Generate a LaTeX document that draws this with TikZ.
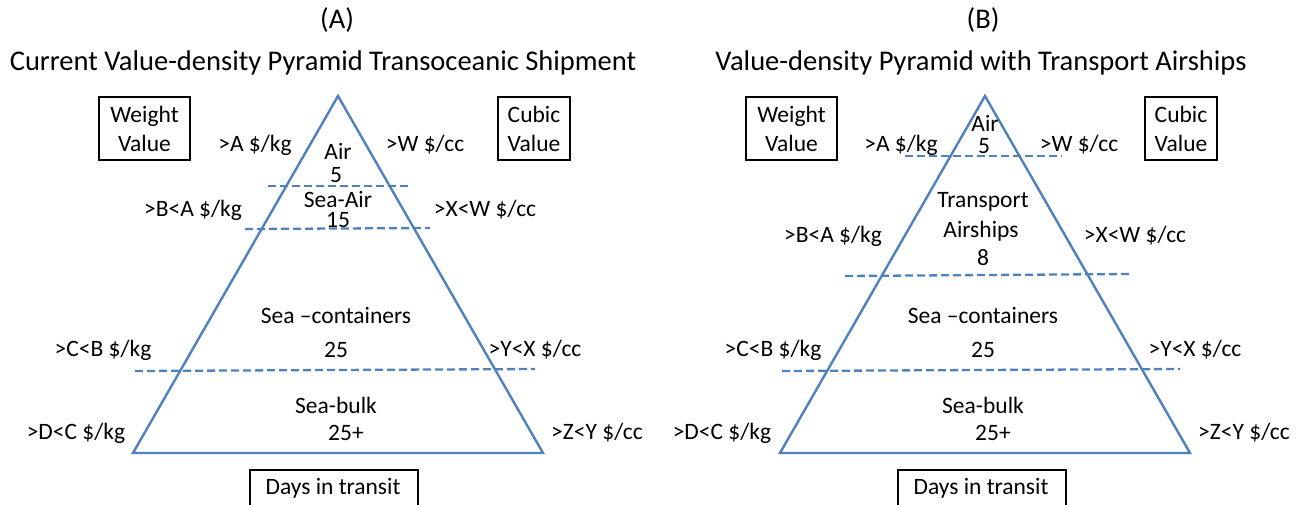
\documentclass[tikz,border=0pt]{standalone}
\usepackage{fontspec}
\setmainfont{Carlito}
\definecolor{pyrblue}{RGB}{79,129,189}
\tikzset{
  lbl/.style={font=\fontsize{23.5}{26}\selectfont, inner sep=0pt, text=black},
  ttl/.style={font=\fontsize{28.5}{32}\selectfont, inner sep=0pt, text=black},
  boxed/.style={draw=black, line width=1.2pt, font=\fontsize{23.5}{29}\selectfont, align=center, inner sep=2pt},
  pyr/.style={draw=pyrblue, line width=2.4pt, line join=miter},
  divider/.style={draw=pyrblue, line width=2.3pt, dash pattern=on 8pt off 4pt}
}
\begin{document}
\begin{tikzpicture}[x=1pt,y=-1pt]
\useasboundingbox (0,0) rectangle (1304,504);
% ---------- (A) ----------
\node[ttl] (tA) at (337,20) {(A)};
\node[ttl] (sA) at (323,63) {Current Value-density Pyramid Transoceanic Shipment};
\node[boxed, minimum width=91pt, minimum height=63pt] (wA) at (144.5,128.5) {Weight\\Value};
\node[boxed, minimum width=72pt, minimum height=63pt] (cA) at (534,128.5) {Cubic\\Value};
\coordinate (apA) at (338,96);
\coordinate (blA) at (133,453);
\coordinate (brA) at (543,453);
\draw[pyr] (apA) -- (blA) -- (brA) -- cycle;
\coordinate (d1lA) at (268,186); \coordinate (d1rA) at (412,186);
\coordinate (d2lA) at (245,229); \coordinate (d2rA) at (430,228);
\coordinate (d3lA) at (135,371); \coordinate (d3rA) at (535,369);
\draw[divider] (d1lA) -- (d1rA);
\draw[divider] (d2lA) -- (d2rA);
\draw[divider] (d3lA) -- (d3rA);
\node[lbl] (aA) at (338,151) {Air};
\node[lbl] (a5A) at (336,175) {5};
\node[lbl] (saA) at (338,199) {Sea-Air};
\node[lbl] (sa15A) at (338,220) {15};
\node[lbl] (scA) at (336,315) {Sea \textendash containers};
\node[lbl] (sc25A) at (336,350) {25};
\node[lbl] (sbA) at (336,405) {Sea-bulk};
\node[lbl] (sb25A) at (346,433) {25+};
\node[lbl] (lAA) at (255,145) {>A \$/kg};
\node[lbl] (lBA) at (193,210) {>B<A \$/kg};
\node[lbl] (lCA) at (103,350) {>C<B \$/kg};
\node[lbl] (lDA) at (76,433) {>D<C \$/kg};
\node[lbl] (rWA) at (425,145) {>W \$/cc};
\node[lbl] (rXA) at (485,210) {>X<W \$/cc};
\node[lbl] (rYA) at (535,350) {>Y<X \$/cc};
\node[lbl] (rZA) at (597,433) {>Z<Y \$/cc};
\draw[black, line width=1.2pt] (250,512) -- (250,470) -- (418,470) -- (418,512);
\node[lbl] (dA) at (333,488) {Days in transit};
% ---------- (B) ----------
\node[ttl] (tB) at (983,20) {(B)};
\node[ttl] (sB) at (981,63) {Value-density Pyramid with Transport Airships};
\node[boxed, minimum width=91pt, minimum height=63pt] (wB) at (791.5,128.5) {Weight\\Value};
\node[boxed, minimum width=72pt, minimum height=63pt] (cB) at (1181,128.5) {Cubic\\Value};
\coordinate (apB) at (985,96);
\coordinate (blB) at (780,453);
\coordinate (brB) at (1190,453);
\draw[pyr] (apB) -- (blB) -- (brB) -- cycle;
\coordinate (d1lB) at (905,156); \coordinate (d1rB) at (1062,156);
\coordinate (d2lB) at (845,276); \coordinate (d2rB) at (1130,274);
\coordinate (d3lB) at (782,371); \coordinate (d3rB) at (1180,369);
\draw[divider] (d1lB) -- (d1rB);
\draw[divider] (d2lB) -- (d2rB);
\draw[divider] (d3lB) -- (d3rB);
\node[lbl] (aB) at (985,123) {Air};
\node[lbl] (a5B) at (984,146) {5};
\node[lbl] (tpB) at (983,202) {Transport};
\node[lbl] (asB) at (981,231) {Airships};
\node[lbl] (a8B) at (983,258) {8};
\node[lbl] (scB) at (983,315) {Sea \textendash containers};
\node[lbl] (sc25B) at (983,350) {25};
\node[lbl] (sbB) at (983,405) {Sea-bulk};
\node[lbl] (sb25B) at (993,433) {25+};
\node[lbl] (lAB) at (901,145) {>A \$/kg};
\node[lbl] (lBB) at (833,236) {>B<A \$/kg};
\node[lbl] (lCB) at (773,350) {>C<B \$/kg};
\node[lbl] (lDB) at (722,433) {>D<C \$/kg};
\node[lbl] (rWB) at (1079,145) {>W \$/cc};
\node[lbl] (rXB) at (1135,236) {>X<W \$/cc};
\node[lbl] (rYB) at (1195,350) {>Y<X \$/cc};
\node[lbl] (rZB) at (1244,433) {>Z<Y \$/cc};
\draw[black, line width=1.2pt] (898,512) -- (898,470) -- (1066,470) -- (1066,512);
\node[lbl] (dB) at (981,488) {Days in transit};
\end{tikzpicture}
\end{document}
